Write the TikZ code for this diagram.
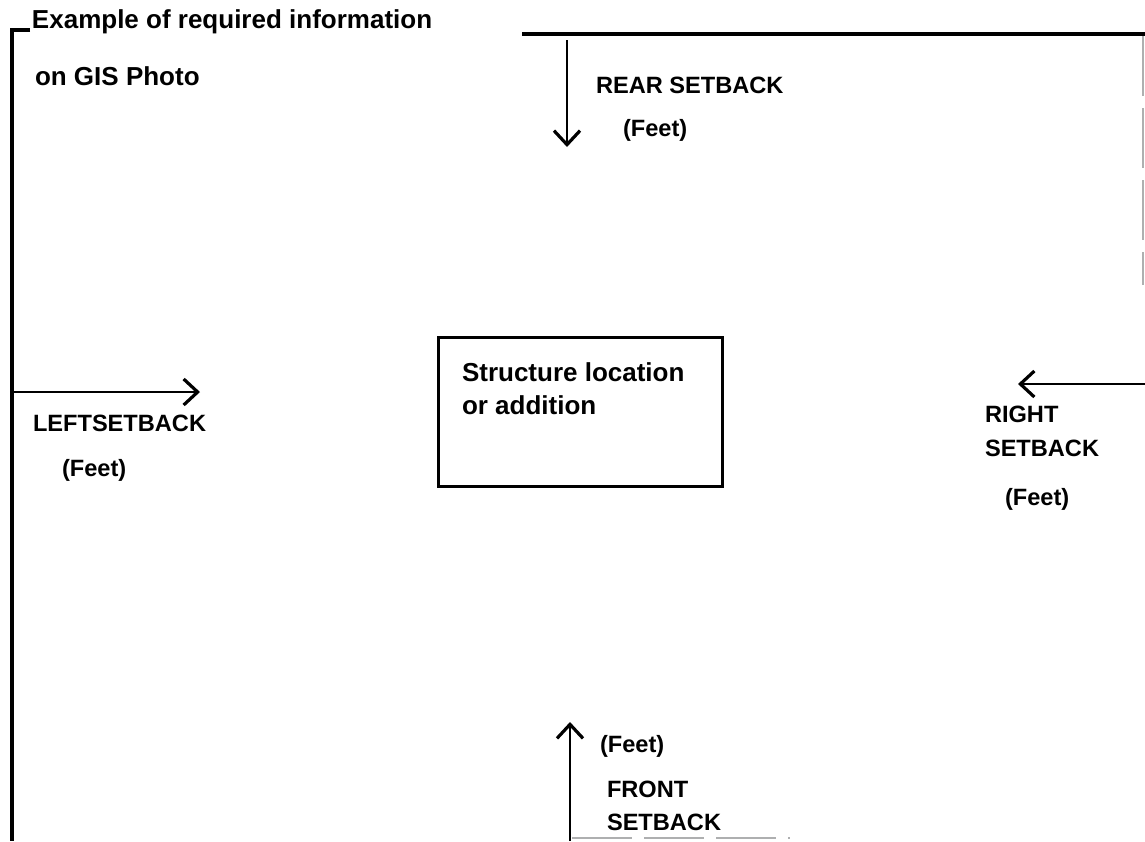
\documentclass[tikz,border=0pt]{standalone}
\usepackage{fontspec}
\setmainfont{Liberation Sans}
\usepackage{tikz}
\usetikzlibrary{arrows.meta, positioning, calc}
\newcommand{\lTitle}{Example of required information}
\newcommand{\lPhoto}{on GIS Photo}
\newcommand{\lFeet}{(Feet)}
\definecolor{themeInk}{RGB}{0, 0, 0}
\definecolor{themeGrey}{RGB}{120, 121, 124}

\begin{document}
\begin{tikzpicture} [
        x=0.5pt, y=-0.5pt,
        font=\fontsize{11.8}{14}\selectfont\bfseries,
        every node/.style={inner sep=0, outer sep=0, text=themeInk},
        lbl/.style={anchor=base west},
        wide/.style={font=\fontsize{13}{16}\selectfont\bfseries},
        border/.style={draw=themeInk, line width=2pt},
        faint/.style={draw=themeGrey!60, line width=0.6pt, dash pattern=on 30pt off 6pt},
        setback/.style={draw=themeInk, line width=1.3pt,
            -{Straight Barb[length=7pt, width=13pt, line width=1.6pt]}}
    ]

    \useasboundingbox (0,0) rectangle (1145,841);

    % page borders
    \draw[border] (30,30) -- (12,30) -- (12,841);
    \draw[border] (522,34) -- (1145,34);
    \draw[faint] (1143,36) -- (1143,285);
    \draw[faint] (572,838) -- (790,838);

    \node[lbl, wide] (title) at (32,28) {\lTitle};
    \node[lbl, wide] (photo) at (35,85) {\lPhoto};

    \node[draw, line width=1.5pt, minimum width=142pt, minimum height=74.5pt,
          anchor=north west] (struct) at (438,337) {};
    \node[anchor=north west, align=left, wide] (struct text)
        at ($ (struct.north west) + (24,26) $) {Structure location\\[0.5pt]or addition};

    \coordinate (rear top) at (567,40);
    \coordinate (rear tip) at (567,147);
    \coordinate (left start) at (12,392);
    \coordinate (left tip) at (200,392);
    \coordinate (right start) at (1145,384);
    \coordinate (right tip) at (1018,384);
    \coordinate (front start) at (570,841);
    \coordinate (front tip) at (570,722);

    \draw[setback] (rear top) -- (rear tip);
    \draw[setback] (left start) -- (left tip);
    \draw[setback] (right start) -- (right tip);
    \draw[setback] (front start) -- (front tip);

    \node[lbl] (rear lbl) at (596,93) {REAR SETBACK};
    \node[lbl] (rear feet) at (623,136) {\lFeet};

    \node[lbl] (left lbl) at (33,431) {LEFTSETBACK};
    \node[lbl] (left feet) at (62,476) {\lFeet};

    \node[lbl, align=left] (right lbl) at (985,456) {RIGHT\\[3pt]SETBACK};
    \node[lbl] (right feet) at (1005,505) {\lFeet};

    \node[lbl] (front feet) at (600,752) {\lFeet};
    \node[lbl, align=left] (front lbl) at (607,830) {FRONT\\[2.5pt]SETBACK};

\end{tikzpicture}
\end{document}
